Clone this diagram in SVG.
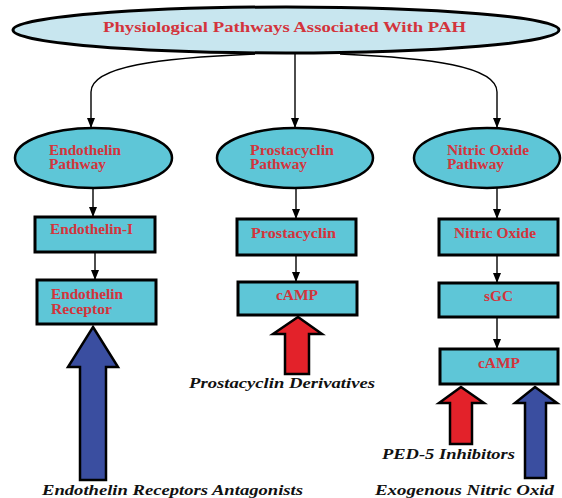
<svg xmlns="http://www.w3.org/2000/svg" width="562" height="498" viewBox="0 0 562 498">
  <defs>
    <style>
      .title { fill: #c8e6ef; stroke: #000; stroke-width: 3; }
      .ell { fill: #5ec6d7; stroke: #000; stroke-width: 2.5; }
      .box { fill: #5ec6d7; stroke: #000; stroke-width: 3; }
      .t { font-family: "Liberation Serif", "Times New Roman", serif; font-weight: bold; fill: #d3343c; font-size: 14px; }
      .tt { font-size: 15.5px; }
      .lbl { font-family: "Liberation Serif", "Times New Roman", serif; font-weight: bold; font-style: italic; fill: #111; font-size: 15px; }
      .con { fill: none; stroke: #000; stroke-width: 1.4; }
      .blue { fill: #3a4ea0; stroke: #000; stroke-width: 2.5; }
      .red { fill: #e3222a; stroke: #000; stroke-width: 2.5; }
    </style>
    <marker id="ah" markerUnits="userSpaceOnUse" markerWidth="10" markerHeight="10" viewBox="0 0 10 10" refX="10" refY="5" orient="auto">
      <path d="M0,1 L10,5 L0,9 Z" fill="#000"/>
    </marker>
  </defs>

  <g id="connectors">
    <path class="con" d="M255,54 C160,58 91,66 91,92 L91,128" marker-end="url(#ah)"/>
    <path class="con" d="M295,53 L295,128" marker-end="url(#ah)"/>
    <path class="con" d="M340,54 C430,58 497,66 497,92 L497,128" marker-end="url(#ah)"/>
    <path class="con" d="M93,188 L93,217" marker-end="url(#ah)"/>
    <path class="con" d="M95,252 L95,280" marker-end="url(#ah)"/>
    <path class="con" d="M296,188 L296,219" marker-end="url(#ah)"/>
    <path class="con" d="M296,255 L296,282" marker-end="url(#ah)"/>
    <path class="con" d="M497,188 L497,219" marker-end="url(#ah)"/>
    <path class="con" d="M497,255 L497,283" marker-end="url(#ah)"/>
    <path class="con" d="M497,317 L497,349" marker-end="url(#ah)"/>
  </g>

  <g id="title">
    <ellipse class="title" cx="286" cy="30" rx="273" ry="23"/>
    <text class="t tt" x="103" y="32" textLength="363" lengthAdjust="spacingAndGlyphs">Physiological Pathways Associated With PAH</text>
  </g>

  <g id="endothelin-pathway">
    <ellipse class="ell" cx="93.5" cy="158" rx="78.5" ry="30"/>
    <text class="t" x="49" y="155" textLength="72" lengthAdjust="spacingAndGlyphs">Endothelin</text>
    <text class="t" x="49" y="169" textLength="57" lengthAdjust="spacingAndGlyphs">Pathway</text>
  </g>
  <g id="prostacyclin-pathway">
    <ellipse class="ell" cx="295" cy="158" rx="78" ry="30"/>
    <text class="t" x="250" y="155" textLength="84" lengthAdjust="spacingAndGlyphs">Prostacyclin</text>
    <text class="t" x="250" y="169" textLength="57" lengthAdjust="spacingAndGlyphs">Pathway</text>
  </g>
  <g id="no-pathway">
    <ellipse class="ell" cx="487" cy="158" rx="73" ry="30"/>
    <text class="t" x="447" y="155" textLength="82" lengthAdjust="spacingAndGlyphs">Nitric Oxide</text>
    <text class="t" x="447" y="169" textLength="57" lengthAdjust="spacingAndGlyphs">Pathway</text>
  </g>

  <g id="endothelin-1">
    <rect class="box" x="35" y="217" width="120" height="35"/>
    <text class="t" x="50" y="234" textLength="83" lengthAdjust="spacingAndGlyphs">Endothelin-I</text>
  </g>
  <g id="endothelin-receptor">
    <rect class="box" x="37" y="280" width="119" height="44"/>
    <text class="t" x="51" y="299" textLength="72" lengthAdjust="spacingAndGlyphs">Endothelin</text>
    <text class="t" x="51" y="314" textLength="61" lengthAdjust="spacingAndGlyphs">Receptor</text>
  </g>
  <g id="prostacyclin">
    <rect class="box" x="237" y="219" width="119" height="36"/>
    <text class="t" x="251" y="238" textLength="85" lengthAdjust="spacingAndGlyphs">Prostacyclin</text>
  </g>
  <g id="camp-1">
    <rect class="box" x="238" y="282" width="119" height="33"/>
    <text class="t" x="276" y="300" textLength="42" lengthAdjust="spacingAndGlyphs">cAMP</text>
  </g>
  <g id="nitric-oxide">
    <rect class="box" x="439" y="219" width="119" height="36"/>
    <text class="t" x="454" y="238" textLength="82" lengthAdjust="spacingAndGlyphs">Nitric Oxide</text>
  </g>
  <g id="sgc">
    <rect class="box" x="439" y="283" width="119" height="34"/>
    <text class="t" x="484" y="301" textLength="29" lengthAdjust="spacingAndGlyphs">sGC</text>
  </g>
  <g id="camp-2">
    <rect class="box" x="440" y="349" width="118" height="35"/>
    <text class="t" x="478" y="368" textLength="42" lengthAdjust="spacingAndGlyphs">cAMP</text>
  </g>

  <g id="era-arrow">
    <polygon class="blue" points="93,327 118,367 106,367 106,480 80,480 80,367 68,367"/>
    <text class="lbl" x="42" y="495" textLength="261" lengthAdjust="spacingAndGlyphs">Endothelin Receptors Antagonists</text>
  </g>
  <g id="prostacyclin-derivatives-arrow">
    <polygon class="red" points="298,317 322,334 309,334 309,374 285,374 285,334 273,334"/>
    <text class="lbl" x="189" y="388" textLength="186" lengthAdjust="spacingAndGlyphs">Prostacyclin Derivatives</text>
  </g>
  <g id="pde5-arrow">
    <polygon class="red" points="461,387 484,403 472,403 472,444 450,444 450,403 439,403"/>
    <text class="lbl" x="382" y="459" textLength="133" lengthAdjust="spacingAndGlyphs">PED-5 Inhibitors</text>
  </g>
  <g id="exogenous-no-arrow">
    <polygon class="blue" points="535,387 557,403 546,403 546,478 525,478 525,403 515,403"/>
    <text class="lbl" x="375" y="495" textLength="179" lengthAdjust="spacingAndGlyphs">Exogenous Nitric Oxid</text>
  </g>
</svg>
